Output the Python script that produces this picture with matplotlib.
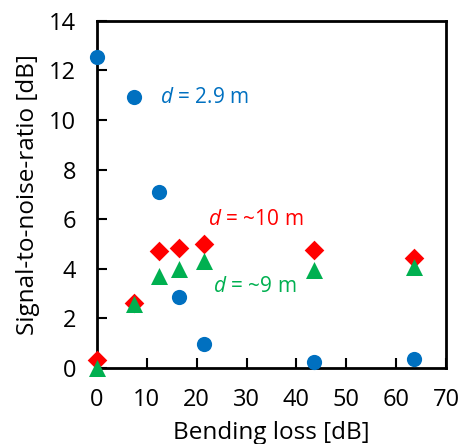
import matplotlib
matplotlib.use("Agg")
import matplotlib.pyplot as plt

plt.rcParams['font.family'] = ['Open Sans', 'DejaVu Sans']
plt.rcParams['mathtext.fontset'] = 'custom'
plt.rcParams['mathtext.it'] = 'Open Sans:italic'
plt.rcParams['mathtext.rm'] = 'Open Sans'

# Data
bending_loss = [0, 7.5, 12.5, 16.5, 21.5, 43.5, 63.5]
snr_d29 = [12.55, 10.93, 7.10, 2.86, 0.98, 0.24, 0.38]
snr_d10 = [0.34, 2.62, 4.72, 4.85, 5.02, 4.77, 4.44]
snr_d9 = [0.0, 2.6, 3.7, 4.0, 4.3, 3.94, 4.07]

xticks = [0, 10, 20, 30, 40, 50, 60, 70]
yticks = [0, 2, 4, 6, 8, 10, 12, 14]

blue = '#0070C0'
red = '#FF0000'
green = '#00B050'

fig = plt.figure(figsize=(4.65, 4.44), dpi=100)
ax = fig.add_axes([0.2086, 0.171, 0.7505, 0.782])

ax.scatter(bending_loss, snr_d10, marker='D', s=100, color=red, zorder=3, clip_on=False, linewidths=0)
ax.scatter(bending_loss, snr_d9, marker='^', s=150, color=green, zorder=4, clip_on=False, linewidths=0)
ax.scatter(bending_loss, snr_d29, marker='o', s=120, color=blue, zorder=5, clip_on=False, linewidths=0)

ax.set_xlim(0, 70)
ax.set_ylim(0, 14)
ax.set_xticks(xticks)
ax.set_yticks(yticks)
ax.tick_params(direction='in', length=7, width=1.5, labelsize=17)
ax.tick_params(axis='y', pad=15)
ax.tick_params(axis='x', pad=14)
for s in ax.spines.values():
    s.set_linewidth(2)

ax.set_xlabel('Bending loss [dB]', fontsize=17.5)
ax.set_ylabel('Signal-to-noise-ratio [dB]', fontsize=17.5)
ax.xaxis.set_label_coords(0.5, -0.152)
ax.yaxis.set_label_coords(-0.162, 0.5)

ax.text(12.6, 10.93, r'$\it{d}$ = 2.9 m', color=blue, fontsize=15, va='center', ha='left')
ax.text(22.2, 6.0, r'$\it{d}$ = ~10 m', color=red, fontsize=15, va='center', ha='left')
ax.text(23.3, 3.27, r'$\it{d}$ = ~9 m', color=green, fontsize=15, va='center', ha='left')

fig.savefig('out.png', dpi=100)
